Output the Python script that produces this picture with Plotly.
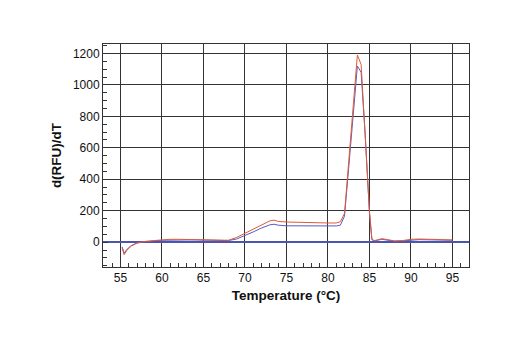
import plotly.graph_objects as go

temps = [55.2, 55.45, 55.8, 56.3, 57, 58, 59, 60, 61, 62, 63, 64, 65, 66, 67, 68, 69, 70, 71, 72, 73, 73.5, 74, 75, 76, 77, 78, 79, 80, 81, 81.5, 82, 82.5, 83, 83.55, 84, 84.5, 85, 85.3, 85.6, 86, 86.5, 87, 88, 89, 90, 91, 92, 93, 94, 95]
red_vals = [-36, -80, -50, -25, -5, 5, 10, 15, 18, 18, 17, 16, 15, 15, 14, 12, 30, 55, 85, 110, 135, 140, 132, 128, 126, 124, 123, 122, 122, 122, 130, 182, 500, 850, 1190, 1130, 700, 200, 20, 10, 15, 22, 18, 8, 10, 18, 20, 18, 16, 15, 14]
blue_vals = [-30, -70, -45, -22, -5, 3, 8, 12, 14, 14, 14, 14, 13, 13, 12, 10, 20, 40, 65, 90, 110, 114, 108, 104, 103, 103, 102, 102, 102, 103, 108, 165, 470, 800, 1120, 1080, 680, 190, 15, 8, 12, 18, 14, 6, 8, 14, 16, 15, 14, 13, 12]
x_ticks = [55, 60, 65, 70, 75, 80, 85, 90, 95]
y_ticks = [0, 200, 400, 600, 800, 1000, 1200]

FONT = "Liberation Sans Narrow, Arial Narrow, Liberation Sans, Arial, sans-serif"

fig = go.Figure()
fig.add_trace(go.Scatter(x=temps, y=blue_vals, mode="lines",
                         line=dict(color="#5a5ac4", width=1), showlegend=False))
fig.add_trace(go.Scatter(x=temps, y=red_vals, mode="lines",
                         line=dict(color="#e05a34", width=1), showlegend=False))

axis_common = dict(
    showgrid=True, gridcolor="#333333", gridwidth=1,
    showline=True, linecolor="#333333", linewidth=1, mirror=True,
    ticks="inside", ticklen=5, tickcolor="#333333",
    tickfont=dict(family=FONT, size=12, color="#111111"),
)

fig.update_layout(
    width=520, height=350,
    margin=dict(l=95, r=59, t=36, b=91),
    paper_bgcolor="white", plot_bgcolor="white",
    xaxis=dict(range=[52.9, 97], tickvals=x_ticks, **axis_common,
               minor=dict(dtick=1, tick0=0, ticks="inside", ticklen=4, tickcolor="#333333", showgrid=False),
               title=dict(text="<b>Temperature (°C)</b>", font=dict(family=FONT, size=13.5, color="#111111"), standoff=6)),
    yaxis=dict(range=[-158, 1260], tickvals=y_ticks, **axis_common,
               zeroline=True, zerolinecolor="#4a55b0", zerolinewidth=2,
               minor=dict(dtick=50, tick0=0, ticks="inside", ticklen=4, tickcolor="#333333", showgrid=False),
               title=dict(text="<b>d(RFU)/dT</b>", font=dict(family=FONT, size=13.5, color="#111111"), standoff=8)),
)

fig.write_html("out.html")
